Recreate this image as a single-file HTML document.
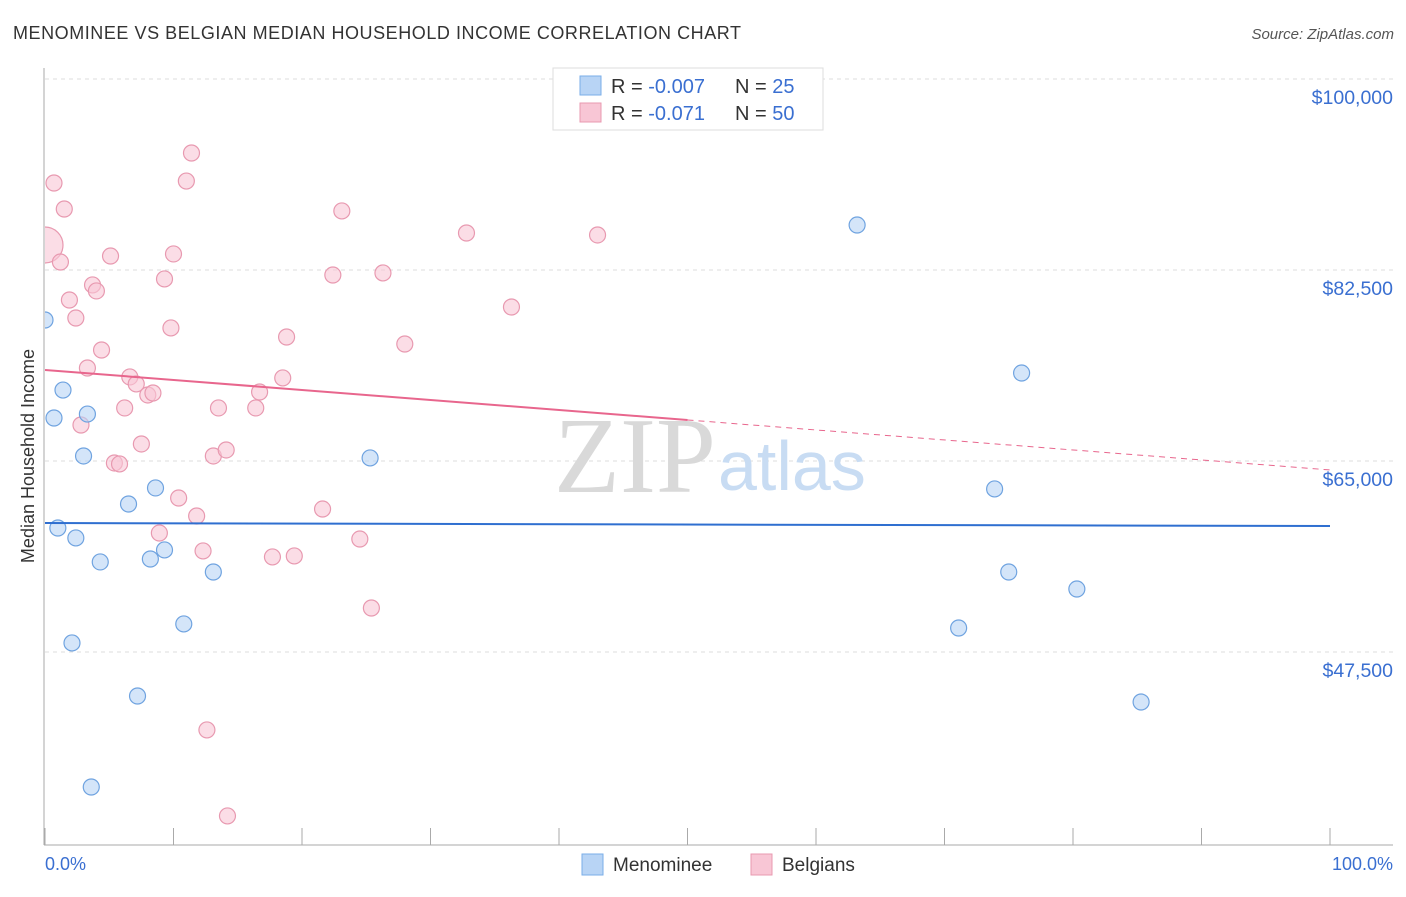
<!DOCTYPE html>
<html><head><meta charset="utf-8"><style>
body{margin:0;background:#fff;font-family:"Liberation Sans",sans-serif;}
</style></head><body>
<svg id="chart" width="1406" height="892" xmlns="http://www.w3.org/2000/svg" font-family="Liberation Sans, sans-serif">
<defs><clipPath id="plotclip"><rect x="45" y="60" width="1360" height="790"/></clipPath></defs>
<text x="13" y="39" font-size="18" fill="#333" letter-spacing="0.55">MENOMINEE VS BELGIAN MEDIAN HOUSEHOLD INCOME CORRELATION CHART</text>
<text x="1394" y="39" font-size="15" fill="#555" text-anchor="end" font-style="italic">Source: ZipAtlas.com</text>
<g id="grid"></g>
<text x="716" y="492" font-size="108" fill="#d9d9d9" text-anchor="end" style="font-family:'Liberation Serif',serif">ZIP</text>
<text x="718" y="490" font-size="70" fill="#c8dcf3">atlas</text>
<text transform="translate(34,456) rotate(-90)" font-size="18" fill="#333" text-anchor="middle">Median Household Income</text>
<text x="45" y="870" font-size="18" fill="#3a6fd1">0.0%</text>
<text x="1393" y="870" font-size="18" fill="#3a6fd1" text-anchor="end">100.0%</text>
<g id="marks" clip-path="url(#plotclip)"></g>
<g>
<rect x="553" y="68" width="270" height="62" fill="#fff" stroke="#ddd"/>
<rect x="580" y="76" width="21" height="19" fill="#b8d4f5" stroke="#7aaee8"/>
<rect x="580" y="103" width="21" height="19" fill="#f8c6d5" stroke="#e899b0"/>
<text x="611" y="93" font-size="20" fill="#333">R = <tspan fill="#3a6fd1">-0.007</tspan></text>
<text x="735" y="93" font-size="20" fill="#333">N = <tspan fill="#3a6fd1"> 25</tspan></text>
<text x="611" y="120" font-size="20" fill="#333">R = <tspan fill="#3a6fd1"> -0.071</tspan></text>
<text x="735" y="120" font-size="20" fill="#333">N = <tspan fill="#3a6fd1">50</tspan></text>
</g>
<g>
<rect x="582" y="854" width="21" height="21" fill="#b8d4f5" stroke="#7aaee8"/>
<text x="613" y="871" font-size="19" fill="#333">Menominee</text>
<rect x="751" y="854" width="21" height="21" fill="#f8c6d5" stroke="#e899b0"/>
<text x="782" y="871" font-size="19" fill="#333">Belgians</text>
</g>
</svg>
<script>
const yTicks=[100000,82500,65000,47500];
const yTickLabels=["$100,000","$82,500","$65,000","$47,500"];
const blueX=[0,1.4,0.7,3.3,3.0,1.0,2.4,6.5,8.6,4.3,8.2,9.3,13.1,10.8,2.1,7.2,3.6,25.3,63.2,76.0,73.9,75.0,71.1,80.3,85.3];
const blueY=[77920,71500,68940,69300,65460,58860,57950,61060,62530,55750,56020,56850,54830,50070,48330,43470,35130,65280,86620,73060,62440,54830,49700,53270,42920];
const pinkX=[0,0.7,1.5,1.2,5.1,3.7,4.0,1.9,2.4,4.4,3.3,6.6,7.1,8.0,8.4,6.2,2.8,7.5,5.4,5.8,9.8,9.3,10.0,11.0,11.4,10.4,8.9,11.8,12.3,13.1,14.1,13.5,16.4,16.7,18.5,18.8,12.6,14.2,17.7,19.4,21.6,22.4,23.1,26.3,28.0,24.5,25.4,32.8,36.3,43.0];
const pinkY=[84790,90470,88090,83230,83780,81130,80580,79750,78100,75170,73520,72700,72060,71050,71230,69860,68300,66560,64820,64730,77190,81680,83970,90650,93220,61610,58400,59960,56760,65460,66010,69860,69860,71320,72610,76360,40360,32480,56210,56300,60600,82040,87910,82230,75720,57850,51530,85890,79110,85710];
const blueTrend=[59320,59040];
const pinkTrend=[73340,64180];
const NS="http://www.w3.org/2000/svg";
const xs=p=>45+p*12.85;
const ys=v=>79+(100000-v)/17500*191;
const grid=document.getElementById('grid'),marks=document.getElementById('marks');
function mk(tag,attrs,parent){const e=document.createElementNS(NS,tag);for(const k in attrs)e.setAttribute(k,attrs[k]);parent.appendChild(e);return e;}
yTicks.forEach((t,i)=>{
 const l=mk('line',{x1:45,x2:1393,y1:ys(t),y2:ys(t),stroke:'#ddd','stroke-dasharray':'4,4'},grid);
 
 
 const tx=mk('text',{x:1393,y:ys(t)+25,'font-size':19.5,fill:'#3a6fd1','text-anchor':'end'},grid);
 tx.textContent=yTickLabels[i];
 
 
});
const ax=mk('line',{x1:44,x2:44,y1:68,y2:845,stroke:'#aaa'},grid);


const bx=mk('line',{x1:44,x2:1393,y1:845,y2:845,stroke:'#aaa'},grid);


for(let i=0;i<=10;i++){const t=mk('line',{x1:xs(i*10),x2:xs(i*10),y1:828,y2:845,stroke:'#aaa'},grid);
 
 }
function dot(x,y,r,f,s,name){const c=mk('circle',{cx:xs(x),cy:ys(y),r:r,fill:f,stroke:s,'stroke-width':1.2,'fill-opacity':0.6},marks);
 
 }
pinkX.forEach((x,i)=>dot(x,pinkY[i],i===0?18:8,'#f8c6d5','#e899b0','belgians-point'));
blueX.forEach((x,i)=>dot(x,blueY[i],8,'#b8d4f5','#6fa3e0','menominee-point'));
const bt=mk('line',{x1:xs(0),x2:xs(100),y1:ys(blueTrend[0]),y2:ys(blueTrend[1]),stroke:'#2f6fd0','stroke-width':2},marks);


const pm=(pinkTrend[0]+(pinkTrend[1]-pinkTrend[0])*0.5);
const pt=mk('line',{x1:xs(0),x2:xs(50),y1:ys(pinkTrend[0]),y2:ys(pm),stroke:'#e8668d','stroke-width':2},marks);


const pd=mk('line',{x1:xs(50),x2:xs(100),y1:ys(pm),y2:ys(pinkTrend[1]),stroke:'#e8668d','stroke-width':1,'stroke-dasharray':'6,5'},marks);


</script>
</body></html>
